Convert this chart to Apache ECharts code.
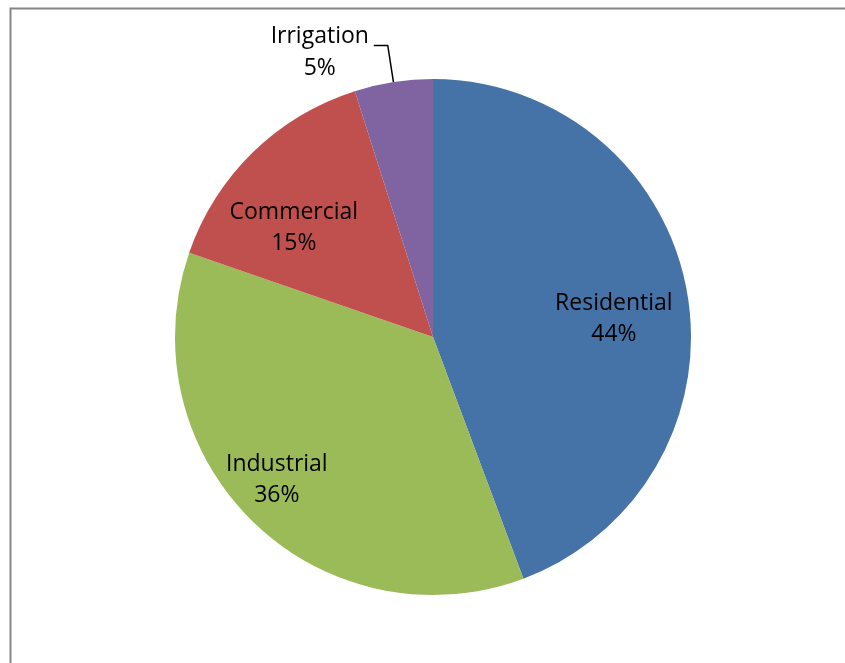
<!DOCTYPE html>
<html><head><meta charset="utf-8">
<script src="https://cdn.jsdelivr.net/npm/echarts@6/dist/echarts.min.js"></script>
<style>html,body{margin:0;padding:0;background:#fff}#c{width:845px;height:663px}</style>
</head><body><div id="c"></div>
<script>
const categories = ['Residential', 'Industrial', 'Commercial', 'Irrigation'];
const values = [44.3, 36.0, 14.8, 4.9];
const colors = ['#4572A7', '#9BBB59', '#C0504D', '#8064A2'];
// label nudges from the default inner position (px)
const labelNudge = [[51, 5], [-64, 48], [-47, -15], [0, 0]];

const chart = echarts.init(document.getElementById('c'), null, {renderer: 'canvas'});
const font = '"Open Sans", Lato, sans-serif';
const fs = 23;
chart.setOption({
  animation: false,
  graphic: [{
    type: 'rect', silent: true,
    shape: {x: 10.5, y: 8.5, width: 2000, height: 2000},
    style: {fill: 'none', stroke: '#868686', lineWidth: 2}
  }],
  series: [{
    type: 'pie',
    center: [433, 337],
    radius: 258,
    startAngle: 90,
    clockwise: true,
    avoidLabelOverlap: false,
    itemStyle: {borderWidth: 0},
    label: {
      position: 'inner',
      color: '#000',
      fontFamily: font,
      fontSize: fs,
      lineHeight: 31,
      formatter: p => p.name + '\n' + Math.round(p.percent) + '%'
    },
    labelLayout: p => ({dx: labelNudge[p.dataIndex][0], dy: labelNudge[p.dataIndex][1]}),
    data: categories.map((n, i) => {
      const d = {name: n, value: values[i], itemStyle: {color: colors[i]}};
      if (i === 3) {
        d.label = {
          position: 'outside',
          distanceToLabelLine: 4,
          padding: [14, 0, 0, 0],
          formatter: p => '{a|' + p.name + '}\n{a|' + Math.round(p.percent) + '%}',
          rich: {a: {width: 100, align: 'center', fontFamily: font, fontSize: fs, lineHeight: 32, color: '#000'}}
        };
        d.labelLine = {show: true, length: 37, length2: 14, smooth: false, lineStyle: {color: '#000', width: 1.5}};
      }
      return d;
    })
  }]
});
</script></body></html>
